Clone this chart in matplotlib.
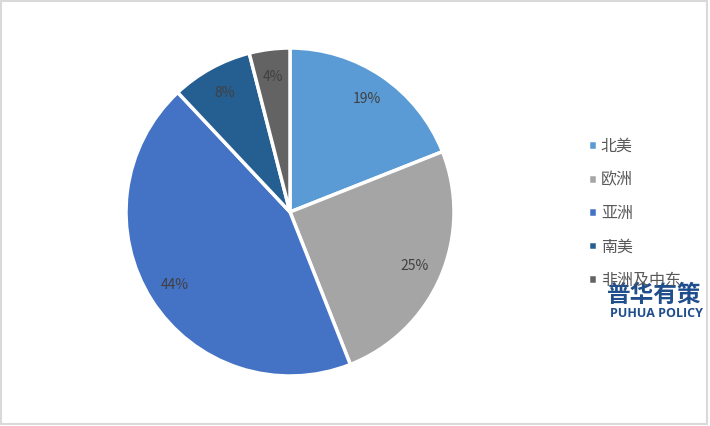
import matplotlib
matplotlib.use("Agg")
import matplotlib.pyplot as plt
from matplotlib.patches import Rectangle

plt.rcParams['font.family'] = ['Noto Sans CJK SC', 'DejaVu Sans']

# 各地区占比 (%)
regions = ["北美", "欧洲", "亚洲", "南美", "非洲及中东"]
shares = [19, 25, 44, 8, 4]
colors = ["#5B9BD5", "#A5A5A5", "#4472C4", "#255E91", "#636363"]

fig = plt.figure(figsize=(7.1, 4.26), dpi=100)
fig.patch.set_facecolor("white")

# 饼图区域: 圆心约 (290, 212) px, 半径约 164 px
cx, cy, r = 290 / 710, 1 - 212 / 426, 164
ax = fig.add_axes([cx - r / 710, cy - r / 426, 2 * r / 710, 2 * r / 426])
wedges, texts, autotexts = ax.pie(
    shares, colors=colors, startangle=90, counterclock=False,
    autopct=lambda p: f"{p:.0f}%", pctdistance=0.83,
    wedgeprops=dict(edgecolor="white", linewidth=2.5),
    textprops=dict(color="#404040", fontsize=10),
)
ax.set_xlim(-1.0, 1.0)
ax.set_ylim(-1.0, 1.0)
ax.set_aspect("equal")

# 图例
leg = fig.legend(wedges, regions, loc="upper left", bbox_to_anchor=(0.808, 0.710),
                 frameon=False, fontsize=11.5, handlelength=0.55, handleheight=0.55,
                 handletextpad=0.25, labelspacing=1.03, labelcolor="#595959")

# 水印
fig.text(0.922, 0.307, "普华有策", fontsize=17, fontweight="bold", color="#1F4E8C",
         ha="center", va="center")
fig.text(0.925, 0.264, "PUHUA POLICY", fontsize=9, fontweight="bold", color="#1F4E8C",
         ha="center", va="center", family=["Open Sans", "DejaVu Sans"])

# 外框
fig.add_artist(Rectangle((0.002, 0.004), 0.994, 0.994, transform=fig.transFigure,
                         fill=False, edgecolor="#D9D9D9", linewidth=1.5))

fig.savefig("out.png", dpi=100)
